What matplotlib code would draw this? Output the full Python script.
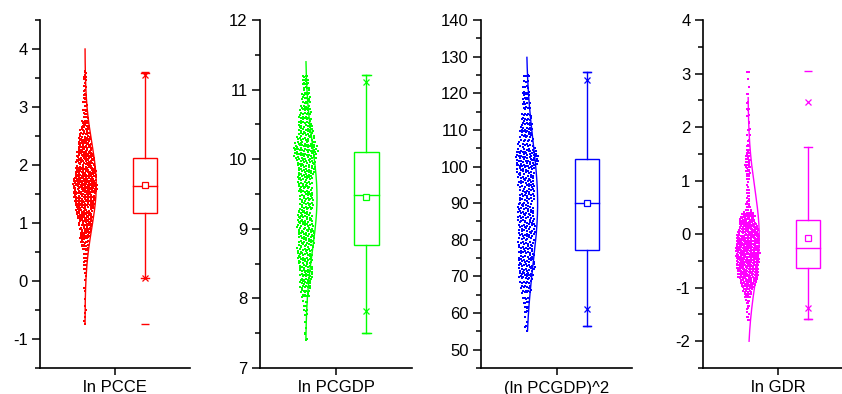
import numpy as np
import matplotlib.pyplot as plt
from matplotlib.patches import Rectangle

plt.rcParams['font.family'] = ['Liberation Sans', 'DejaVu Sans']
plt.rcParams['font.size'] = 12
plt.rcParams['axes.unicode_minus'] = False

labels = ['ln PCCE', 'ln PCGDP', '(ln PCGDP)^2', 'ln GDR']
colors = ['#ff0000', '#00ff00', '#0000ff', '#ff00ff']

# histogram of the overlaid points (bin edges, counts)
pcce_edges = [-0.75, -0.5, -0.25, 0.0, 0.25, 0.5, 0.75, 1.0, 1.25, 1.5, 1.75,
              2.0, 2.25, 2.5, 2.75, 3.0, 3.25, 3.5, 3.62]
pcce_counts = [4, 3, 2, 6, 12, 25, 40, 55, 70, 85, 75, 60, 45, 30, 15, 12, 8, 6]

pcgdp_edges = [7.4, 7.75, 8.0, 8.25, 8.5, 8.75, 9.0, 9.25, 9.5, 9.75, 10.0,
               10.25, 10.5, 10.75, 11.0, 11.22]
pcgdp_counts = [6, 12, 30, 38, 45, 48, 45, 40, 40, 50, 70, 45, 35, 25, 18]

pcgdp2_edges = [55, 60, 65, 70, 75, 80, 85, 90, 95, 100, 105, 110, 115, 120, 126]
pcgdp2_counts = [6, 15, 30, 45, 40, 45, 45, 40, 45, 65, 35, 30, 20, 15]

gdr_edges = [-1.6, -1.4, -1.2, -1.0, -0.8, -0.6, -0.4, -0.2, 0.0, 0.2, 0.4,
             0.6, 0.8, 1.0, 1.2, 1.4, 1.6, 2.0, 2.5, 3.05]
gdr_counts = [6, 10, 25, 55, 70, 75, 80, 75, 65, 50, 15, 8, 6, 12, 18, 14, 10, 10, 6]

# box chart statistics
q1 = [1.18, 8.77, 77.1, -0.63]
med = [1.64, 9.49, 90.0, -0.26]
mean = [1.655, 9.45, 90.1, -0.07]
q3 = [2.12, 10.11, 102.1, 0.27]
whisk_lo = [0.05, 7.50, 56.4, -1.58]
whisk_hi = [3.59, 11.21, 125.9, 1.625]
p1 = [0.05, 7.82, 61.2, -1.38]
p99 = [3.55, 11.11, 123.6, 2.46]
vmin = [-0.74, 7.50, 56.4, -1.58]
vmax = [3.60, 11.21, 125.9, 3.05]

# normal distribution curves
curve_mu = [1.65, 9.45, 90.0, -0.05]
curve_sd = [0.73, 0.75, 16.5, 0.9]
curve_lo = [-0.72, 7.40, 55.2, -2.0]
curve_hi = [4.0, 11.40, 129.8, 2.55]

ylims = [(-1.5, 4.5), (7, 12), (45, 140), (-2.5, 4)]
major = [1, 1, 10, 1]
minor = [0.5, 0.5, 5, 0.5]
tick_lo = [-1, 7, 50, -2]
tick_hi = [4, 12, 140, 4]

edges_all = [pcce_edges, pcgdp_edges, pcgdp2_edges, gdr_edges]
counts_all = [pcce_counts, pcgdp_counts, pcgdp2_counts, gdr_counts]

# axes placement in pixels (left, width)
W, H = 842, 394
ax_left = [40, 260, 481, 703]
ax_width = [150, 152, 151, 150]


def spread_points(edges, counts):
    edges = np.asarray(edges, float)
    counts = np.asarray(counts, float)
    centers = (edges[:-1] + edges[1:]) / 2
    ys, us = [], []
    k = 0
    for lo, hi, n in zip(edges[:-1], edges[1:], counts.astype(int)):
        for i in range(n):
            k += 1
            ys.append(lo + ((0.5 + k * 0.7548776662) % 1) * (hi - lo))
            us.append(((0.5 + k * 0.5698402910) % 1) * 2 - 1)
    ys = np.array(ys)
    width = np.interp(ys, centers, counts) / counts.max()
    return np.array(us) * np.maximum(width, 0.06), ys


fig = plt.figure(figsize=(W / 100, H / 100), dpi=100)

base_x = 0.6
box_x = 1.4
box_w = 0.32
cap_w = 0.11
spread = 0.165
peak = 0.15

for i in range(4):
    c = colors[i]
    ax = fig.add_axes([ax_left[i] / W, 26 / H, ax_width[i] / W, 348 / H])

    dx, ys = spread_points(edges_all[i], counts_all[i])
    ax.scatter(base_x + dx * spread, ys, s=3.0, marker='s', color=c, linewidths=0)

    yy = np.linspace(curve_lo[i], curve_hi[i], 300)
    xx = base_x + peak * np.exp(-0.5 * ((yy - curve_mu[i]) / curve_sd[i]) ** 2)
    ax.plot(xx, yy, color=c, lw=1)

    ax.add_patch(Rectangle((box_x - box_w / 2, q1[i]), box_w, q3[i] - q1[i],
                           fill=False, ec=c, lw=1))
    ax.plot([box_x - box_w / 2, box_x + box_w / 2], [med[i], med[i]], color=c, lw=1)
    ax.plot([box_x, box_x], [q3[i], whisk_hi[i]], color=c, lw=1)
    ax.plot([box_x, box_x], [whisk_lo[i], q1[i]], color=c, lw=1)
    for yv in (whisk_lo[i], whisk_hi[i]):
        ax.plot([box_x - cap_w / 2, box_x + cap_w / 2], [yv, yv], color=c, lw=1)
    ax.plot(box_x, mean[i], 's', mfc='white', mec=c, ms=4, mew=0.9)
    ax.plot([box_x, box_x], [p1[i], p99[i]], 'x', color=c, ms=5, mew=0.9)
    ax.plot([box_x, box_x], [vmin[i], vmax[i]], '_', color=c, ms=6, mew=1)

    ax.set_xlim(0, 2)
    ax.set_ylim(*ylims[i])
    ax.set_xticks([1])
    ax.set_xticklabels([labels[i]])
    ax.set_yticks(np.arange(tick_lo[i], tick_hi[i] + major[i] / 2, major[i]))
    ax.set_yticks(np.arange(ylims[i][0], ylims[i][1] + minor[i] / 2, minor[i]), minor=True)
    ax.spines['top'].set_visible(False)
    ax.spines['right'].set_visible(False)
    for s in ('left', 'bottom'):
        ax.spines[s].set_linewidth(1.2)
    ax.tick_params(axis='y', which='major', direction='out', length=6, width=1.1, pad=3)
    ax.tick_params(axis='y', which='minor', direction='out', length=3.5, width=1.1)
    ax.tick_params(axis='x', which='major', direction='out', length=5, width=1.1, pad=4)
    ax.patch.set_alpha(0)

fig.savefig('out.png', dpi=100)
